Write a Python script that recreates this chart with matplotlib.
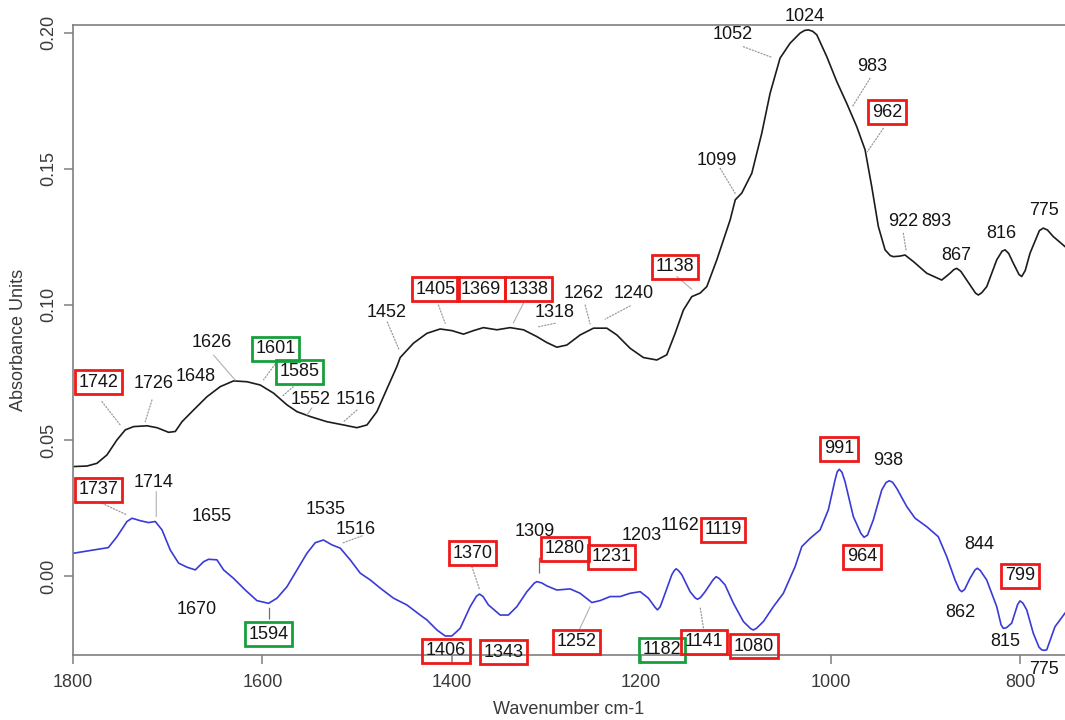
import matplotlib
matplotlib.use("Agg")
import matplotlib.pyplot as plt

plt.rcParams['font.family'] = ['Liberation Sans', 'DejaVu Sans']

# Upper spectrum (black): wavenumber (cm-1) and absorbance
wn_black = [1800, 1785.2, 1774.7, 1764.1, 1753.6, 1744.8, 1736.0, 1721.9, 1711.3, 1699.1,
            1692.0, 1684.9, 1672.7, 1658.5, 1644.5, 1630.5, 1616.3, 1602.3, 1588.2, 1574.1,
            1563.5, 1549.5, 1531.9, 1514.3, 1500.2, 1489.6, 1479.1, 1468.5, 1458.0, 1454.5,
            1440.4, 1426.3, 1412.3, 1399.9, 1387.7, 1377.1, 1366.6, 1352.4, 1338.4, 1324.3,
            1310.2, 1299.6, 1289.1, 1278.5, 1264.5, 1250.4, 1236.3, 1225.7, 1211.7, 1197.7,
            1183.5, 1173.0, 1164.2, 1155.4, 1146.6, 1137.8, 1130.7, 1120.2, 1106.1, 1100.7,
            1093.8, 1083.2, 1072.7, 1063.9, 1053.4, 1042.8, 1032.3, 1027.5, 1023.5, 1019.0,
            1014.6, 1004.1, 993.5, 983.0, 972.4, 963.6, 956.6, 949.6, 942.5, 937.0,
            933.7, 927.0, 921.4, 912.6, 898.5, 882.7, 873.9, 870.0, 866.8, 862.5,
            856.3, 847.0, 844.0, 840.5, 835.1, 824.6, 819.0, 815.8, 812.0, 807.1,
            801.0, 798.2, 794.5, 789.4, 779.5, 775.4, 771.0, 764.9, 752.5]
abs_black = [0.0404, 0.0406, 0.0416, 0.0447, 0.0502, 0.0539, 0.0551, 0.0554, 0.0547, 0.0530,
             0.0533, 0.0569, 0.0612, 0.0661, 0.0698, 0.0719, 0.0716, 0.0704, 0.0674, 0.0631,
             0.0606, 0.0588, 0.0569, 0.0557, 0.0547, 0.0557, 0.0606, 0.0690, 0.0772, 0.0805,
             0.0858, 0.0894, 0.0910, 0.0904, 0.0891, 0.0904, 0.0915, 0.0907, 0.0915, 0.0907,
             0.0882, 0.0860, 0.0843, 0.0851, 0.0888, 0.0913, 0.0913, 0.0888, 0.0839, 0.0805,
             0.0796, 0.0815, 0.0894, 0.0980, 0.1029, 0.1042, 0.1066, 0.1164, 0.1311, 0.1385,
             0.1410, 0.1483, 0.1630, 0.1777, 0.1906, 0.1961, 0.1998, 0.2008, 0.2010, 0.2005,
             0.1992, 0.1912, 0.1820, 0.1740, 0.1654, 0.1569, 0.1434, 0.1287, 0.1201, 0.1180,
             0.1176, 0.1178, 0.1182, 0.1158, 0.1115, 0.1090, 0.1115, 0.1128, 0.1133, 0.1122,
             0.1090, 0.1042, 0.1035, 0.1043, 0.1066, 0.1164, 0.1196, 0.1201, 0.1188, 0.1152,
             0.1110, 0.1103, 0.1125, 0.1189, 0.1272, 0.1281, 0.1274, 0.1250, 0.1213]

# Lower spectrum (blue): wavenumber (cm-1) and absorbance
wn_blue = [1800, 1778.6, 1762.7, 1753.6, 1743.0, 1737.7, 1729.0, 1720.2, 1713.1, 1706.0,
           1697.3, 1688.5, 1679.7, 1670.9, 1662.1, 1656.9, 1648.0, 1641.0, 1630.5, 1618.1,
           1605.8, 1593.5, 1584.6, 1574.1, 1563.5, 1553.0, 1544.2, 1535.5, 1526.6, 1517.8,
           1507.3, 1496.7, 1486.1, 1475.6, 1461.6, 1447.4, 1433.4, 1426.3, 1415.7, 1407.0,
           1399.9, 1391.2, 1380.6, 1374.0, 1370.8, 1367.0, 1361.3, 1348.9, 1340.2, 1331.3,
           1320.7, 1313.0, 1310.2, 1305.0, 1299.6, 1289.1, 1275.0, 1264.5, 1252.1, 1243.4,
           1232.8, 1222.2, 1211.7, 1201.1, 1192.4, 1185.5, 1182.9, 1180.0, 1176.6, 1167.7,
           1165.0, 1163.1, 1160.5, 1157.1, 1148.4, 1143.0, 1140.6, 1137.5, 1132.5, 1124.0,
           1120.9, 1117.5, 1111.5, 1102.6, 1092.1, 1084.5, 1081.5, 1078.0, 1071.0, 1060.4,
           1049.9, 1037.5, 1030.4, 1021.7, 1011.1, 1002.4, 995.3, 993.0, 990.8, 988.0,
           984.8, 976.0, 968.0, 964.7, 961.0, 954.9, 946.0, 941.5, 938.0, 934.5,
           930.2, 919.6, 910.8, 898.5, 886.3, 877.4, 868.6, 864.0, 861.5, 858.5,
           852.8, 847.5, 845.1, 842.0, 835.2, 824.6, 820.0, 817.6, 814.5, 808.8,
           802.5, 800.0, 797.0, 792.9, 786.0, 780.0, 777.1, 774.5, 771.8, 763.1,
           752.5]
abs_blue = [0.0085, 0.0097, 0.0106, 0.0146, 0.0202, 0.0214, 0.0205, 0.0198, 0.0202, 0.0171,
            0.0097, 0.0049, 0.0034, 0.0024, 0.0054, 0.0063, 0.0061, 0.0024, -0.0007, -0.0050,
            -0.0089, -0.0099, -0.0080, -0.0038, 0.0024, 0.0085, 0.0124, 0.0134, 0.0116, 0.0104,
            0.0061, 0.0012, -0.0013, -0.0043, -0.0080, -0.0105, -0.0142, -0.0160, -0.0197, -0.0219,
            -0.0219, -0.0191, -0.0111, -0.0073, -0.0065, -0.0074, -0.0105, -0.0142, -0.0142, -0.0111,
            -0.0056, -0.0025, -0.0019, -0.0024, -0.0035, -0.0050, -0.0046, -0.0062, -0.0096, -0.0089,
            -0.0074, -0.0074, -0.0062, -0.0056, -0.0080, -0.0113, -0.0123, -0.0112, -0.0080, 0.0006,
            0.0022, 0.0028, 0.0021, 0.0006, -0.0056, -0.0079, -0.0084, -0.0078, -0.0056, -0.0012,
            -0.0001, -0.0008, -0.0031, -0.0099, -0.0166, -0.0192, -0.0197, -0.0190, -0.0166, -0.0111,
            -0.0062, 0.0036, 0.0110, 0.0140, 0.0171, 0.0245, 0.0355, 0.0385, 0.0394, 0.0383,
            0.0349, 0.0220, 0.0158, 0.0144, 0.0152, 0.0208, 0.0318, 0.0345, 0.0352, 0.0346,
            0.0324, 0.0257, 0.0214, 0.0183, 0.0146, 0.0073, -0.0013, -0.0049, -0.0056, -0.0048,
            -0.0007, 0.0024, 0.0030, 0.0022, -0.0013, -0.0111, -0.0178, -0.0191, -0.0189, -0.0172,
            -0.0103, -0.0090, -0.0098, -0.0123, -0.0209, -0.0260, -0.0270, -0.0272, -0.0270, -0.0185,
            -0.0135]

x_ticks = [1800, 1600, 1400, 1200, 1000, 800]
y_ticks = [0.00, 0.05, 0.10, 0.15, 0.20]
x_label = "Wavenumber cm-1"
y_label = "Absorbance Units"

RED = '#ee1a1a'
GREEN = '#16a03c'

# Peak labels: (text, x, y, box colour, leader line (x0, y0, x1, y1, style))
black_peaks = [
    ('1742', 1773.3, 0.0715, RED, (1769.4, 0.0643, 1750.1, 0.0557, 'dot')),
    ('1726', 1715.2, 0.0708, None, (1716.6, 0.0649, 1723.7, 0.0569, 'dot')),
    ('1648', 1670.9, 0.0734, None, None),
    ('1626', 1654.0, 0.0859, None, (1651.6, 0.0814, 1628.7, 0.0722, 'solid')),
    ('1601', 1585.9, 0.0837, GREEN, (1584.6, 0.0790, 1598.8, 0.0723, 'dot')),
    ('1585', 1561.1, 0.0752, GREEN, (1567.4, 0.0698, 1579.4, 0.0661, 'dot')),
    ('1552', 1549.5, 0.0649, None, (1547.7, 0.0620, 1553.0, 0.0594, 'solid')),
    ('1516', 1502.0, 0.0649, None, (1500.2, 0.0612, 1514.3, 0.0569, 'dot')),
    ('1452', 1469.3, 0.0969, None, (1468.2, 0.0936, 1455.6, 0.0833, 'dot')),
    ('1405', 1417.0, 0.1057, RED, (1414.1, 0.0998, 1407.0, 0.0931, 'dot')),
    ('1369', 1369.0, 0.1057, RED, None),
    ('1338', 1319.4, 0.1057, RED, (1324.3, 0.1005, 1334.9, 0.0933, 'solid')),
    ('1318', 1291.9, 0.0972, None, (1290.9, 0.0931, 1310.2, 0.0917, 'dot')),
    ('1262', 1260.3, 0.1042, None, (1259.2, 0.0998, 1254.0, 0.0929, 'dot')),
    ('1240', 1207.5, 0.1042, None, (1211.7, 0.0995, 1238.1, 0.0946, 'dot')),
    ('1138', 1164.2, 0.1138, RED, (1162.4, 0.1103, 1146.6, 0.1056, 'solid')),
    ('1099', 1119.8, 0.1528, None, (1116.7, 0.1501, 1100.8, 0.1409, 'dot')),
    ('1052', 1103.5, 0.1992, None, (1092.1, 0.1948, 1062.1, 0.1909, 'dot')),
    ('1024', 1026.9, 0.2058, None, None),
    ('983', 956.2, 0.1877, None, (958.3, 0.1832, 976.6, 0.1730, 'dot')),
    ('962', 940.7, 0.1708, RED, (944.3, 0.1648, 961.2, 0.1562, 'dot')),
    ('922', 923.5, 0.1307, None, (923.2, 0.1262, 920.4, 0.1201, 'dot')),
    ('893', 887.9, 0.1307, None, None),
    ('867', 867.6, 0.1182, None, None),
    ('816', 819.3, 0.1263, None, None),
    ('775', 774.7, 0.1346, None, None),
]

blue_peaks = [
    ('1737', 1773.3, 0.0318, RED, (1769.4, 0.0269, 1743.0, 0.0226, 'dot')),
    ('1714', 1714.7, 0.0344, None, (1712.1, 0.0312, 1712.1, 0.0220, 'solid')),
    ('1655', 1653.3, 0.0219, None, None),
    ('1670', 1669.8, -0.0120, None, None),
    ('1594', 1593.8, -0.0212, GREEN, (1592.5, -0.0117, 1592.5, -0.0157, 'dark')),
    ('1535', 1533.7, 0.0245, None, None),
    ('1516', 1502.0, 0.0171, None, (1494.9, 0.0149, 1516.0, 0.0122, 'dot')),
    ('1370', 1377.9, 0.0086, RED, (1378.8, 0.0036, 1370.8, -0.0047, 'dot')),
    ('1406', 1406.2, -0.0274, RED, None),
    ('1343', 1345.8, -0.0278, RED, None),
    ('1309', 1312.0, 0.0164, None, (1307.4, 0.0067, 1307.4, 0.0012, 'dark')),
    ('1280', 1280.3, 0.0101, RED, None),
    ('1231', 1231.7, 0.0072, RED, None),
    ('1252', 1268.0, -0.0241, RED, (1265.5, -0.0197, 1253.9, -0.0111, 'solid')),
    ('1203', 1199.3, 0.0149, None, None),
    ('1162', 1159.4, 0.0189, None, None),
    ('1119', 1113.5, 0.0171, RED, None),
    ('1182', 1178.2, -0.0270, GREEN, None),
    ('1141', 1133.6, -0.0241, RED, (1134.3, -0.0189, 1137.8, -0.0112, 'dot')),
    ('1080', 1080.8, -0.0256, RED, None),
    ('991', 991.3, 0.0469, RED, None),
    ('938', 939.0, 0.0425, None, None),
    ('964', 966.8, 0.0072, RED, None),
    ('844', 843.3, 0.0116, None, None),
    ('862', 863.3, -0.0131, None, None),
    ('799', 800.0, 0.0002, RED, None),
    ('815', 815.1, -0.0241, None, None),
    ('775', 774.6, -0.0344, None, None),
]

LEADER_STYLES = {
    'dot': dict(color='#9a9a9a', lw=0.9, ls=(0, (1, 1.5))),
    'solid': dict(color='#b0b0b0', lw=0.8, ls='-'),
    'dark': dict(color='#707070', lw=0.9, ls='-'),
}

fig = plt.figure(figsize=(10.65, 7.2), dpi=100)
ax = fig.add_axes([73 / 1065, 65 / 720, 992 / 1065, 630 / 720])

ax.plot(wn_black, abs_black, color='#1c1c1c', lw=1.2, solid_joinstyle='round')
ax.plot(wn_blue, abs_blue, color='#3a3ad8', lw=1.2, solid_joinstyle='round')

ax.set_xlim(1800, 752.5)
ax.set_ylim(-0.0289, 0.2028)
ax.set_xticks(x_ticks)
ax.set_yticks(y_ticks)
ax.set_yticklabels([f"{v:.2f}" for v in y_ticks])

spine_col = '#7f7f7f'
for side in ('left', 'bottom', 'top'):
    ax.spines[side].set_color(spine_col)
    ax.spines[side].set_linewidth(1.2)
ax.spines['right'].set_visible(False)

ax.tick_params(axis='both', direction='out', length=6.5, width=1.1,
               color=spine_col, labelcolor='#3a3a3a', labelsize=13)
ax.tick_params(axis='x', pad=7)
ax.tick_params(axis='y', pad=4.5, labelrotation=90)
for lab in ax.get_yticklabels():
    lab.set_va('center')

ax.set_xlabel(x_label, fontsize=13, color='#3a3a3a')
ax.set_ylabel(y_label, fontsize=13, color='#3a3a3a')
ax.xaxis.set_label_coords(0.5, -0.087)
ax.xaxis.label.set_va('center')
ax.yaxis.set_label_coords(-0.055, 0.5)
ax.yaxis.label.set_va('center')


def draw_peaks(peaks):
    for text, tx, ty, box, leader in peaks:
        kw = dict(ha='center', va='center', fontsize=13, color='#151515',
                  clip_on=False, zorder=5)
        if box is not None:
            kw['bbox'] = dict(boxstyle='square,pad=0.2', fc='none', ec=box, lw=2.0)
        ax.text(tx, ty, text, **kw)
        if leader is not None:
            x0, y0, x1, y1, style = leader
            st = LEADER_STYLES[style]
            ax.annotate('', xy=(x1, y1), xytext=(x0, y0),
                        arrowprops=dict(arrowstyle='-', color=st['color'], lw=st['lw'],
                                        linestyle=st['ls'], shrinkA=0, shrinkB=0))


draw_peaks(black_peaks)
draw_peaks(blue_peaks)

fig.savefig('out.png', dpi=100)
